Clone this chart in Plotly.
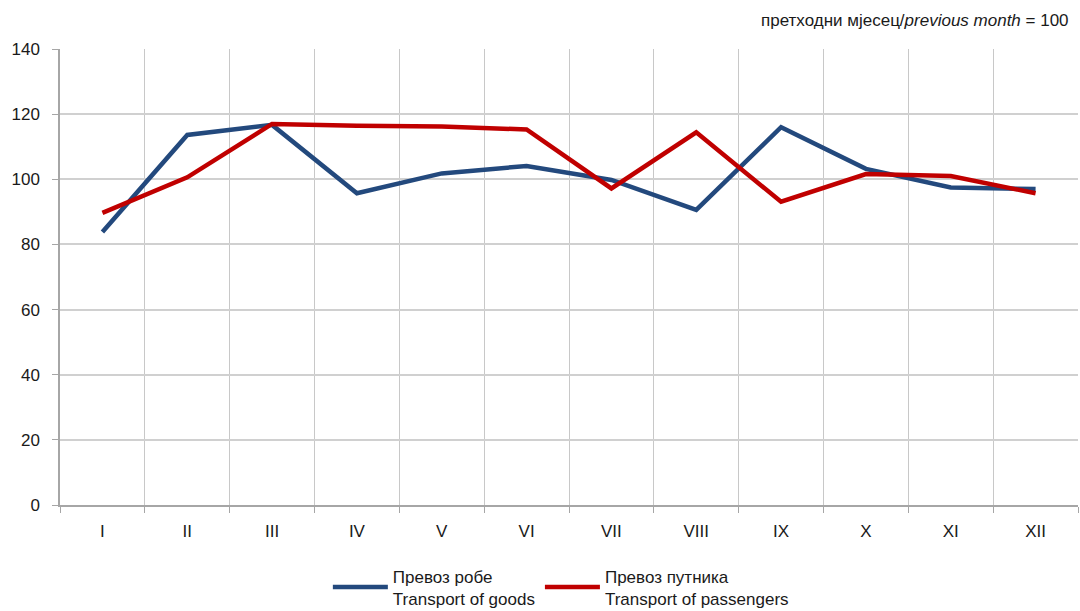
import plotly.graph_objects as go

months = ["I", "II", "III", "IV", "V", "VI", "VII", "VIII", "IX", "X", "XI", "XII"]
goods = [83.8, 113.6, 116.7, 95.7, 101.8, 104.1, 99.8, 90.6, 116.0, 103.2, 97.5, 97.0]
passengers = [89.7, 100.6, 117.0, 116.4, 116.2, 115.3, 97.2, 114.4, 93.1, 101.6, 101.0, 95.7]
name_goods = "Превоз робе<br>Transport of goods"
name_pass = "Превоз путника<br>Transport of passengers"
note = "претходни мјесец/<i>previous month</i> = 100"

xpos = list(range(1, len(months) + 1))
font = "Liberation Sans, Arial, sans-serif"

fig = go.Figure()
fig.add_trace(go.Scatter(x=xpos, y=goods, mode="lines", name=name_goods,
                         line=dict(color="#23497D", width=4.5)))
fig.add_trace(go.Scatter(x=xpos, y=passengers, mode="lines", name=name_pass,
                         line=dict(color="#C00000", width=4.5)))

fig.update_layout(
    width=1080, height=611,
    margin=dict(l=60, r=2, t=49, b=106, autoexpand=False),
    plot_bgcolor="white", paper_bgcolor="white",
    font=dict(family=font, size=17, color="#1a1a1a"),
    showlegend=True,
    legend=dict(orientation="h", x=0.492, xanchor="center", yref="container",
                y=0.086, yanchor="top", font=dict(size=17), itemwidth=55,
                tracegroupgap=0),
    annotations=[dict(text=note, xref="paper", yref="paper", x=0.993, y=1.0,
                      yshift=29, xanchor="right", yanchor="middle", showarrow=False,
                      font=dict(size=17, family=font))],
)
fig.update_xaxes(
    range=[0.5, 12.5], tickmode="array", tickvals=xpos, ticktext=months,
    showgrid=False, showline=True, linecolor="#A6A6A6", linewidth=1.5,
    ticks="", zeroline=False, ticklabelstandoff=10,
    minor=dict(tickmode="linear", tick0=0.5, dtick=1, showgrid=True,
               gridcolor="#C8C8C8", gridwidth=1, ticks="outside", ticklen=6,
               tickcolor="#A6A6A6"),
)
fig.update_yaxes(
    range=[0, 140], dtick=20, showgrid=True, gridcolor="#D0D0D0", gridwidth=1.5,
    showline=True, linecolor="#A6A6A6", linewidth=1.5, ticks="outside",
    ticklen=6, tickcolor="#A6A6A6", zeroline=False, ticklabelstandoff=9,
)

fig.write_html("out.html", config={"displayModeBar": False},
               post_script="document.body.style.margin='0';document.body.style.overflow='hidden';")
